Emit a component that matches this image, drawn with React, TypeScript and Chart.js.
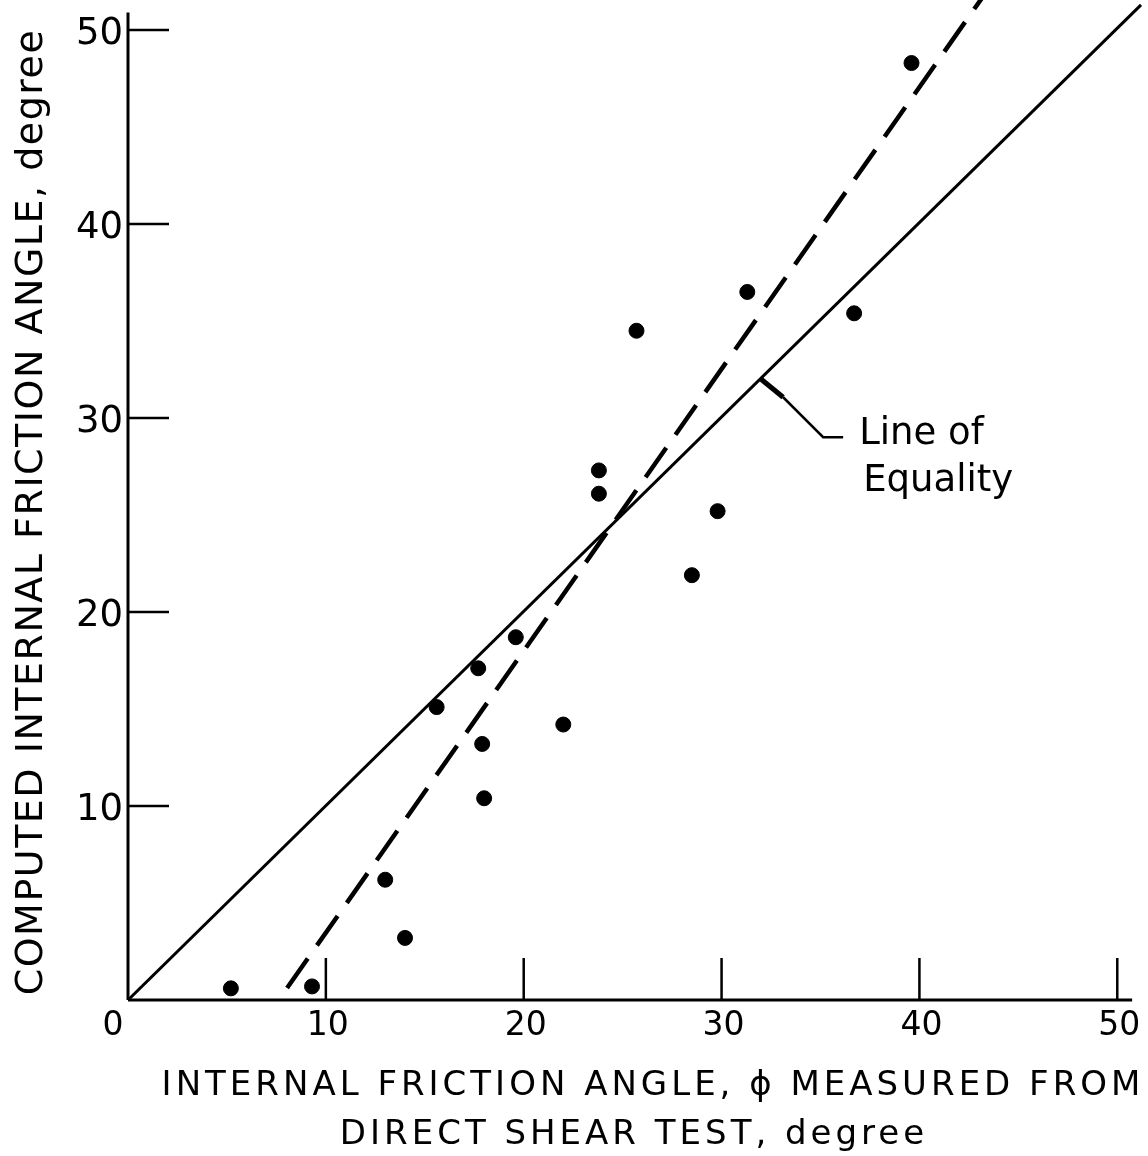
import React, { useEffect, useRef } from "react";
import { Chart, registerables } from "chart.js";
Chart.register(...registerables);

// measured (direct shear) vs computed internal friction angle, degree
const measuredPhi = [5.2, 9.3, 13.0, 14.0, 15.6, 17.7, 17.9, 18.0, 19.6, 22.0, 23.8, 23.8, 25.7, 28.5, 29.8, 31.3, 36.7, 39.6];
const computedPhi = [0.6, 0.7, 6.2, 3.2, 15.1, 17.1, 13.2, 10.4, 18.7, 14.2, 27.3, 26.1, 34.5, 21.9, 25.2, 36.5, 35.4, 48.3];

const equalityX = [0, 51.2];
const equalityY = [0, 51.3];
const trendX = [8.04, 43.4];
const trendY = [0.62, 52.0];

const xTickValues = [0, 10, 20, 30, 40, 50];
const xTickLabels = ["0", "10", "20", "30", "40", "50"];
const yTickValues = [10, 20, 30, 40, 50];
const yTickLabels = ["10", "20", "30", "40", "50"];

const xTitleLines = ["INTERNAL FRICTION ANGLE, \u03d5 MEASURED FROM", "DIRECT SHEAR TEST, degree"];
const yTitle = "COMPUTED INTERNAL FRICTION ANGLE, degree";
const annotationLines = ["Line of", "Equality"];
const annotationAnchor = { x: 32.0, y: 32.0 };

const FONT = "'DejaVu Sans', sans-serif";

export default function App() {
  const ref = useRef<HTMLCanvasElement | null>(null);
  useEffect(() => {
    document.body.style.margin = "0";
    const canvas = ref.current!;
    const axesPlugin = {
      id: "axesPlugin",
      beforeDatasetsDraw(chart: any) {
        const ctx = chart.ctx as CanvasRenderingContext2D;
        const xs = chart.scales.x;
        const ys = chart.scales.y;
        const x0 = xs.getPixelForValue(0);
        const y0 = ys.getPixelForValue(0);
        ctx.save();
        ctx.strokeStyle = "#000";
        ctx.lineCap = "butt";
        // axis lines
        ctx.lineWidth = 3;
        ctx.beginPath();
        ctx.moveTo(x0, y0);
        ctx.lineTo(xs.getPixelForValue(50.75), y0);
        ctx.moveTo(x0, y0);
        ctx.lineTo(x0, ys.getPixelForValue(50.9));
        ctx.stroke();
        // ticks
        ctx.lineWidth = 2.5;
        ctx.beginPath();
        xTickValues.forEach((v) => {
          if (v === 0) return;
          const px = xs.getPixelForValue(v);
          ctx.moveTo(px, y0);
          ctx.lineTo(px, y0 - 42);
        });
        yTickValues.forEach((v) => {
          const py = ys.getPixelForValue(v);
          ctx.moveTo(x0, py);
          ctx.lineTo(x0 + 41, py);
        });
        ctx.stroke();
        ctx.restore();
      },
      afterDraw(chart: any) {
        const ctx = chart.ctx as CanvasRenderingContext2D;
        const xs = chart.scales.x;
        const ys = chart.scales.y;
        const x0 = xs.getPixelForValue(0);
        const y0 = ys.getPixelForValue(0);
        ctx.save();
        ctx.fillStyle = "#000";
        ctx.strokeStyle = "#000";
        // y tick labels
        ctx.font = `37px ${FONT}`;
        ctx.textAlign = "right";
        ctx.textBaseline = "alphabetic";
        yTickValues.forEach((v, i) => {
          const py = ys.getPixelForValue(v);
          ctx.fillText(yTickLabels[i], x0 - 5, py + 13.5);
        });
        // x tick labels
        ctx.font = `33px ${FONT}`;
        ctx.textAlign = "center";
        xTickValues.forEach((v, i) => {
          let px = xs.getPixelForValue(v);
          if (v === 0) px -= 17;
          ctx.fillText(xTickLabels[i], px + 2, y0 + 35);
        });
        // x title
        ctx.font = `34px ${FONT}`;
        (ctx as any).letterSpacing = "4px";
        ctx.textAlign = "center";
        ctx.fillText(xTitleLines[0], 653, 1095);
        ctx.fillText(xTitleLines[1], 634, 1144);
        // y title
        ctx.font = `38px ${FONT}`;
        (ctx as any).letterSpacing = "1.5px";
        ctx.save();
        ctx.translate(42, 512);
        ctx.rotate(-Math.PI / 2);
        ctx.textAlign = "center";
        ctx.fillText(yTitle, 0, 0);
        ctx.restore();
        (ctx as any).letterSpacing = "0px";
        // annotation leader
        const ax = xs.getPixelForValue(annotationAnchor.x);
        const ay = ys.getPixelForValue(annotationAnchor.y);
        ctx.lineWidth = 5;
        ctx.beginPath();
        ctx.moveTo(ax, ay);
        ctx.lineTo(ax + 22, ay + 18);
        ctx.stroke();
        ctx.lineWidth = 2.5;
        ctx.beginPath();
        ctx.moveTo(ax + 22, ay + 18);
        ctx.lineTo(ax + 62, ay + 58);
        ctx.lineTo(ax + 82, ay + 58);
        ctx.stroke();
        ctx.font = `37px ${FONT}`;
        ctx.textAlign = "left";
        ctx.fillText(annotationLines[0], ax + 98, ay + 65);
        ctx.fillText(annotationLines[1], ax + 102, ay + 112);
        ctx.restore();
      },
    };

    const chart = new Chart(canvas, {
      type: "scatter",
      data: {
        datasets: [
          {
            label: "data",
            data: measuredPhi.map((x, i) => ({ x, y: computedPhi[i] })),
            backgroundColor: "#000",
            borderColor: "#000",
            pointRadius: 7.5,
            pointBorderWidth: 1,
            showLine: false,
            order: 0,
          },
          {
            label: "equality",
            data: equalityX.map((x, i) => ({ x, y: equalityY[i] })),
            showLine: true,
            borderColor: "#000",
            borderWidth: 3,
            pointRadius: 0,
            order: 1,
          },
          {
            label: "trend",
            data: trendX.map((x, i) => ({ x, y: trendY[i] })),
            showLine: true,
            borderColor: "#000",
            borderWidth: 4.5,
            borderDash: [36, 16],
            pointRadius: 0,
            order: 2,
          },
        ],
      },
      options: {
        responsive: false,
        animation: false,
        devicePixelRatio: 1,
        layout: { autoPadding: false, padding: { left: 128, right: 5, top: 0, bottom: 156 } },
        plugins: { legend: { display: false }, tooltip: { enabled: false } },
        scales: {
          x: { type: "linear", min: 0, max: 51.3, display: false },
          y: { type: "linear", min: 0, max: 51.55, display: false },
        },
      },
      plugins: [axesPlugin],
    });
    return () => chart.destroy();
  }, []);
  return (
    <div style={{ width: 1148, height: 1156, background: "#fff" }}>
      <canvas ref={ref} width={1148} height={1156} style={{ display: "block" }} />
    </div>
  );
}
